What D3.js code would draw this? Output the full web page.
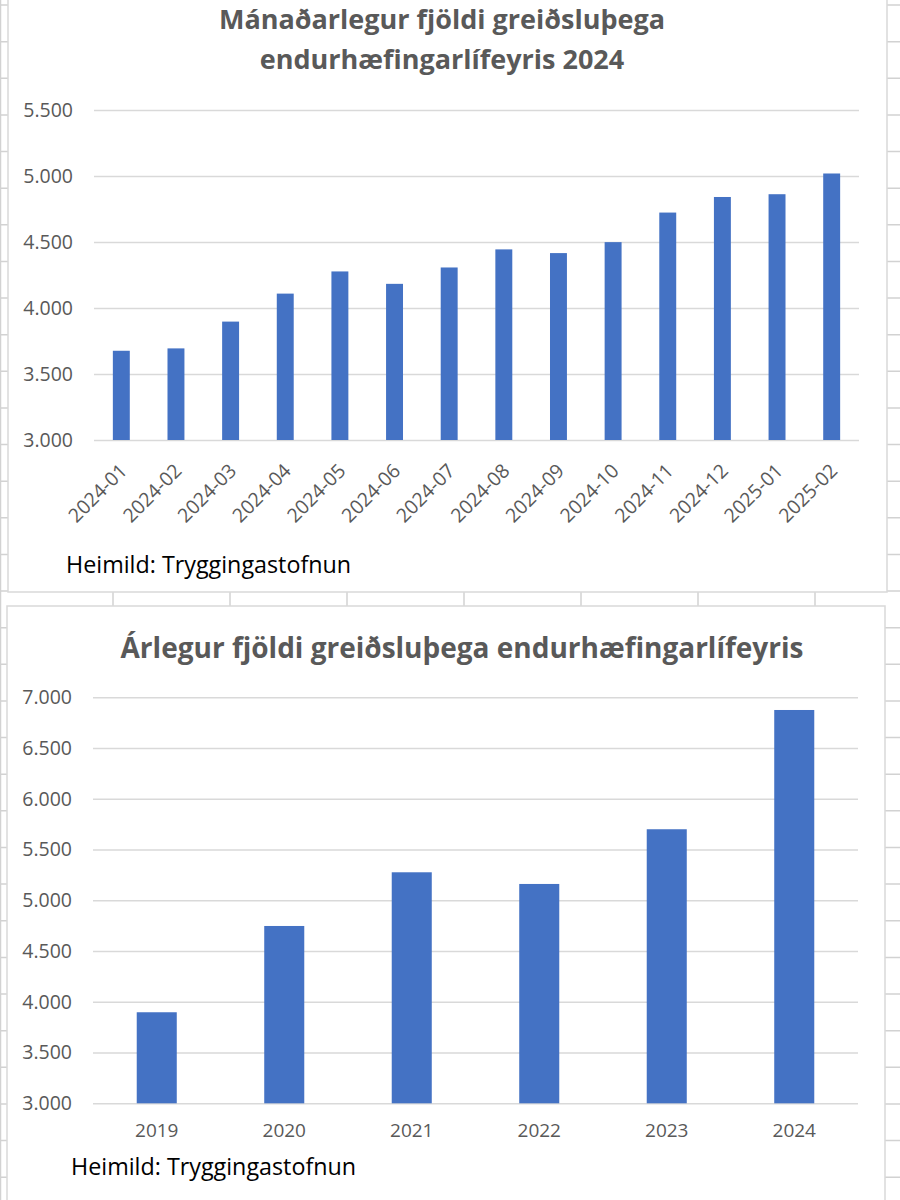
<!DOCTYPE html>
<html>
<head>
<meta charset="utf-8">
<script src="https://cdn.jsdelivr.net/npm/d3@7"></script>
<style>
  html, body { margin: 0; padding: 0; background: #fff; }
  svg { display: block; }
</style>
</head>
<body>
<div id="chart"></div>
<script>
// monthly chart
const months = ["2024-01", "2024-02", "2024-03", "2024-04", "2024-05", "2024-06", "2024-07",
                "2024-08", "2024-09", "2024-10", "2024-11", "2024-12", "2025-01", "2025-02"];
const monthlyValues = [3676, 3694, 3897, 4109, 4277, 4183, 4307, 4444, 4416, 4499, 4723, 4841, 4862, 5019];
const monthlyTicks = [3000, 3500, 4000, 4500, 5000, 5500];

// yearly chart
const years = ["2019", "2020", "2021", "2022", "2023", "2024"];
const yearlyValues = [3897, 4747, 5276, 5161, 5700, 6875];
const yearlyTicks = [3000, 3500, 4000, 4500, 5000, 5500, 6000, 6500, 7000];

const monthlyTitle = ["Mánaðarlegur fjöldi greiðsluþega", "endurhæfingarlífeyris 2024"];
const yearlyTitle = "Árlegur fjöldi greiðsluþega endurhæfingarlífeyris";
const sourceNote = "Heimild: Tryggingastofnun";

const W = 900, H = 1200;
const FONT = "'Open Sans', 'Noto Sans', sans-serif";
const BAR = "#4472C4", GRID = "#d9d9d9", LABEL = "#595959", SHEET = "#d2d2d2";

const isFormat = d3.formatLocale({ decimal: ",", thousands: ".", grouping: [3], currency: ["", ""] }).format(",d");

const svg = d3.select("#chart").append("svg")
    .attr("width", W)
    .attr("height", H);

// spreadsheet cells behind the charts
const sheet = svg.append("g");
sheet.selectAll(".row")
    .data(d3.range(0, 34))
    .enter()
    .append("line")
    .attr("x1", 0).attr("x2", W)
    .attr("y1", d => 5 + d * 36.63).attr("y2", d => 5 + d * 36.63)
    .attr("stroke", SHEET).attr("stroke-width", 1.5);
sheet.selectAll(".col")
    .data(d3.range(-1, 8))
    .enter()
    .append("line")
    .attr("y1", 0).attr("y2", H)
    .attr("x1", d => 113 + d * 117).attr("x2", d => 113 + d * 117)
    .attr("stroke", SHEET).attr("stroke-width", 1.5);
sheet.append("line")
    .attr("x1", 0.5).attr("x2", 0.5).attr("y1", 0).attr("y2", H)
    .attr("stroke", SHEET).attr("stroke-width", 1.5);

function drawBarChart(opts) {
    const g = svg.append("g");

    g.append("rect")
        .attr("x", opts.box[0]).attr("y", opts.box[1])
        .attr("width", opts.box[2]).attr("height", opts.box[3])
        .attr("fill", "#fff")
        .attr("stroke", GRID)
        .attr("stroke-width", 1.5);

    opts.title.forEach((t, i) => {
        g.append("text")
            .attr("x", opts.titleX)
            .attr("y", opts.titleY + i * opts.titleLead)
            .attr("text-anchor", "middle")
            .attr("fill", LABEL)
            .style("font-family", FONT)
            .style("font-weight", "700")
            .style("font-size", opts.titleSize + "px")
            .text(t);
    });

    const x = d3.scaleBand()
        .domain(opts.categories)
        .range([opts.left, opts.right])
        .paddingInner(opts.pad)
        .paddingOuter(opts.pad / 2);

    const y = d3.scaleLinear()
        .domain(d3.extent(opts.ticks))
        .range([opts.bottom, opts.top]);

    // gridlines + y labels
    const yAxis = g.append("g")
        .attr("transform", `translate(${opts.left},0)`)
        .call(d3.axisLeft(y)
            .tickValues(opts.ticks)
            .tickFormat(isFormat)
            .tickSize(-(opts.right - opts.left))
            .tickPadding(21));
    yAxis.select(".domain").remove();
    yAxis.selectAll("line").attr("stroke", GRID).attr("stroke-width", 1.6);
    yAxis.selectAll("text")
        .attr("fill", LABEL)
        .style("font-family", FONT)
        .style("font-size", "19.5px");

    g.selectAll(".bar")
        .data(opts.values)
        .enter()
        .append("rect")
        .attr("x", (d, i) => x(opts.categories[i]))
        .attr("y", d => y(d))
        .attr("width", x.bandwidth())
        .attr("height", d => y(opts.ticks[0]) - y(d))
        .attr("fill", BAR);

    const xAxis = g.append("g")
        .attr("transform", `translate(0,${opts.bottom})`)
        .call(d3.axisBottom(x).tickSize(0).tickPadding(opts.xPad));
    xAxis.select(".domain").remove();
    const xt = xAxis.selectAll("text")
        .attr("fill", LABEL)
        .style("font-family", FONT)
        .style("font-size", opts.xSize + "px");
    if (opts.rotate) {
        xt.attr("x", 0).attr("y", 0).attr("dy", 0)
            .attr("text-anchor", "end")
            .attr("transform", "translate(7,32) rotate(-45)");
    }

    g.append("text")
        .attr("x", opts.noteX)
        .attr("y", opts.noteY)
        .attr("fill", "#000")
        .style("font-family", FONT)
        .style("font-size", "23.3px")
        .text(sourceNote);
}

drawBarChart({
    box: [8, -2, 879, 594],
    title: monthlyTitle, titleX: 442, titleY: 29, titleLead: 40, titleSize: 27,
    categories: months, values: monthlyValues, ticks: monthlyTicks,
    left: 94, right: 859, top: 110, bottom: 440, pad: 0.69,
    rotate: true, xSize: 19.5, xPad: 0,
    noteX: 66, noteY: 573
});

drawBarChart({
    box: [7, 606, 878, 600],
    title: [yearlyTitle], titleX: 462, titleY: 658, titleLead: 0, titleSize: 28,
    categories: years, values: yearlyValues, ticks: yearlyTicks,
    left: 93, right: 858, top: 697.3, bottom: 1103.3, pad: 0.686,
    rotate: false, xSize: 19, xPad: 20,
    noteX: 71, noteY: 1175
});
</script>
</body>
</html>
